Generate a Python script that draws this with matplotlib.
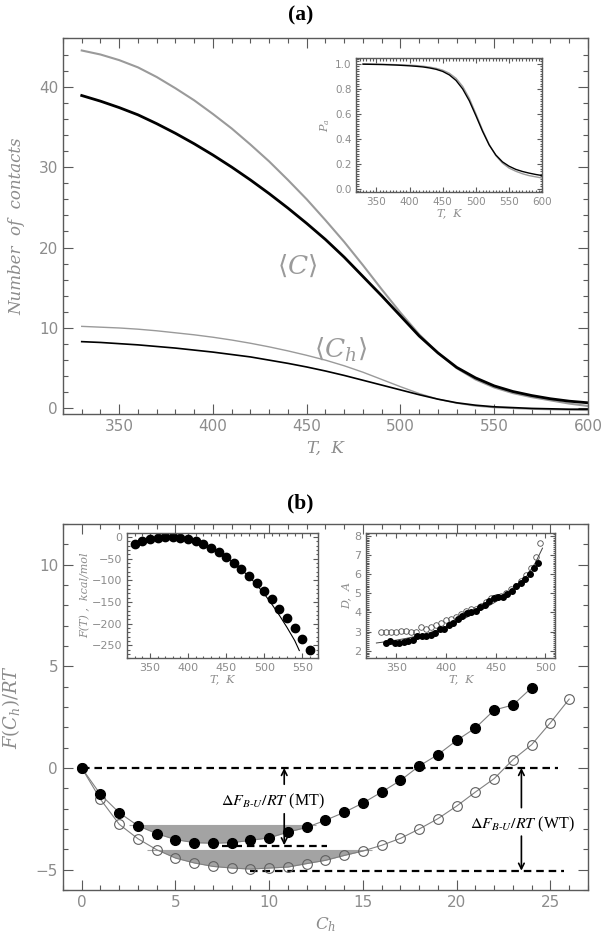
import matplotlib.pyplot as plt
import numpy as np
from matplotlib.ticker import MultipleLocator, FixedLocator

plt.rcParams['font.family'] = ['DejaVu Sans']
plt.rcParams['mathtext.fontset'] = 'dejavuserif'

# ---- panel (a): contacts vs temperature ----
temps_a = [330, 340, 350, 360, 370, 380, 390, 400, 410, 420, 430, 440, 450, 460,
           470, 480, 490, 500, 510, 520, 530, 540, 550, 560, 570, 580, 590, 600]
c_gray = [44.5, 44.0, 43.3, 42.4, 41.2, 39.8, 38.3, 36.6, 34.8, 32.8, 30.7, 28.4, 26.0, 23.4,
          20.7, 17.8, 14.8, 11.9, 9.2, 6.9, 5.0, 3.6, 2.6, 1.9, 1.4, 1.0, 0.6, 0.3]
c_black = [38.9, 38.2, 37.4, 36.5, 35.4, 34.2, 32.9, 31.5, 30.0, 28.4, 26.7, 24.9, 23.0, 21.0,
           18.8, 16.4, 14.0, 11.5, 9.0, 6.9, 5.1, 3.8, 2.8, 2.1, 1.6, 1.2, 0.9, 0.7]
ch_gray = [10.2, 10.1, 10.0, 9.85, 9.65, 9.4, 9.15, 8.85, 8.5, 8.1, 7.65, 7.15, 6.6, 6.0,
           5.3, 4.5, 3.6, 2.7, 1.85, 1.15, 0.65, 0.3, 0.1, 0.0, -0.1, -0.15, -0.2, -0.25]
ch_black = [8.3, 8.2, 8.05, 7.9, 7.7, 7.5, 7.25, 7.0, 6.7, 6.4, 6.0, 5.6, 5.15, 4.65,
            4.1, 3.5, 2.9, 2.3, 1.7, 1.15, 0.7, 0.4, 0.2, 0.1, 0.0, -0.05, -0.1, -0.1]
pa_black = [0.998, 0.997, 0.996, 0.995, 0.993, 0.991, 0.988, 0.985, 0.981, 0.976, 0.968, 0.957,
            0.94, 0.912, 0.868, 0.80, 0.705, 0.585, 0.46, 0.35, 0.27, 0.215, 0.18, 0.155,
            0.138, 0.125, 0.114, 0.105]
pa_gray = [1.0, 0.999, 0.998, 0.997, 0.996, 0.994, 0.992, 0.99, 0.987, 0.982, 0.975, 0.965,
           0.95, 0.925, 0.885, 0.82, 0.725, 0.60, 0.47, 0.355, 0.265, 0.205, 0.165, 0.14,
           0.12, 0.105, 0.095, 0.085]

# ---- panel (b): free energy profiles ----
ch_mt = list(range(0, 25))
f_mt = [0.0, -1.3, -2.2, -2.84, -3.23, -3.52, -3.67, -3.7, -3.67, -3.56, -3.43, -3.15, -2.92,
        -2.57, -2.18, -1.72, -1.18, -0.61, 0.1, 0.66, 1.36, 1.97, 2.85, 3.1, 3.95]
ch_wt = list(range(0, 27))
f_wt = [0.0, -1.54, -2.77, -3.48, -4.02, -4.43, -4.67, -4.84, -4.92, -4.97, -4.92, -4.87, -4.7,
        -4.54, -4.3, -4.08, -3.8, -3.46, -3.0, -2.49, -1.87, -1.18, -0.52, 0.41, 1.15, 2.23, 3.39]

# inset: F(T)
temps_f = [330, 340, 350, 360, 370, 380, 390, 400, 410, 420, 430, 440, 450, 460, 470, 480,
           490, 500, 510, 520, 530, 540, 550, 560]
f_t = [-17, -10, -4.5, -1.5, 0.5, 0.5, -1, -4.5, -10, -17, -25, -35, -46, -60, -73, -89,
       -106, -125, -144, -166, -187, -211, -236, -261]
temps_fit = [330, 340, 350, 360, 370, 380, 390, 400, 410, 420, 430, 440, 450, 460, 470, 480,
             490, 500, 510, 520, 530, 540, 546]
f_fit = [-16, -9.5, -4.5, -1.5, 0, 0, -1.5, -4.5, -9.5, -16.5, -25, -35, -47, -60, -75, -91,
         -110, -131, -155, -181, -209, -239, -262]

# inset: D
temps_d_open = [335, 340, 345, 350, 355, 360, 365, 370, 375, 380, 385, 390, 395, 400, 405, 410,
                415, 420, 425, 430, 435, 440, 445, 450, 455, 460, 465, 470, 475, 480, 485, 490, 495]
d_open = [3.0, 3.0, 3.0, 3.0, 3.05, 3.05, 3.0, 3.0, 3.25, 3.15, 3.25, 3.35, 3.45, 3.6, 3.65, 3.75,
          3.9, 4.05, 4.15, 4.2, 4.35, 4.55, 4.75, 4.8, 4.85, 5.0, 5.2, 5.4, 5.65, 5.95, 6.3, 6.9, 7.6]
temps_d_fill = [340, 344, 349, 353, 358, 362, 367, 371, 376, 380, 385, 389, 394, 398, 403, 407,
                412, 416, 421, 425, 430, 434, 439, 443, 448, 452, 457, 461, 466, 470, 475, 479,
                484, 488, 492]
d_fill = [2.42, 2.49, 2.38, 2.40, 2.47, 2.49, 2.56, 2.77, 2.75, 2.75, 2.83, 2.90, 3.11, 3.15,
          3.34, 3.46, 3.63, 3.79, 3.95, 4.02, 4.09, 4.26, 4.40, 4.59, 4.76, 4.78, 4.82, 4.96,
          5.11, 5.37, 5.55, 5.75, 6.0, 6.3, 6.6]
temps_d_line = [330, 340, 350, 360, 370, 380, 390, 400, 410, 420, 430, 440, 450, 460, 470, 480,
                490, 497]
d_line = [2.4, 2.47, 2.55, 2.64, 2.75, 2.88, 3.05, 3.25, 3.47, 3.72, 3.98, 4.25, 4.55, 4.87,
          5.25, 5.8, 6.6, 7.35]

TXT = '#8c8c8c'
AXC = '#5a5a5a'


def style(ax, xticks, xmin, yticks, ymin, fs, lmaj, lmin):
    # fixed major ticks inside the limits only, IDL-like inward ticks on all sides
    ax.xaxis.set_major_locator(FixedLocator(xticks))
    ax.xaxis.set_minor_locator(MultipleLocator(xmin))
    ax.yaxis.set_major_locator(FixedLocator(yticks))
    ax.yaxis.set_minor_locator(MultipleLocator(ymin))
    ax.tick_params(which='both', direction='in', top=True, right=True,
                   color=AXC, labelcolor=TXT, labelsize=fs, width=0.8)
    ax.tick_params(which='major', length=lmaj)
    ax.tick_params(which='minor', length=lmin)
    for s in ax.spines.values():
        s.set_color(AXC)
        s.set_linewidth(1.0)


lab = dict(color=TXT, family='DejaVu Serif', style='italic')

fig = plt.figure(figsize=(6.01, 9.44), dpi=100)

# ================= (a) =================
ax = fig.add_axes([0.1048, 0.5614, 0.8735, 0.3979])
ax.plot(temps_a, c_gray, color='#9a9a9a', lw=1.5)
ax.plot(temps_a, c_black, color='k', lw=2.0)
ax.plot(temps_a, ch_gray, color='#9a9a9a', lw=1.0)
ax.plot(temps_a, ch_black, color='k', lw=1.2)
ax.set_xlim(320, 600)
ax.set_ylim(-0.7, 46)
style(ax, [350, 400, 450, 500, 550, 600], 10, [0, 10, 20, 30, 40], 2, 11, 7, 3.5)
ax.set_xlabel('T,  K', fontsize=12, labelpad=4, **lab)
ax.set_ylabel('Number  of  contacts', fontsize=12, labelpad=10, **lab)
ax.text(445, 17.6, r'$\langle C\rangle$', color='#9a9a9a', fontsize=19, ha='center', va='center')
ax.text(468, 7.3, r'$\langle C_h\rangle$', color='#9a9a9a', fontsize=19, ha='center', va='center')

ia = ax.inset_axes([0.559, 0.59, 0.354, 0.357])
ia.plot(temps_a, pa_gray, color='#9a9a9a', lw=1.0)
ia.plot(temps_a, pa_black, color='k', lw=1.0)
ia.set_xlim(320, 600)
ia.set_ylim(-0.03, 1.045)
style(ia, [350, 400, 450, 500, 550, 600], 5, [0.0, 0.2, 0.4, 0.6, 0.8, 1.0], 0.02, 7.5, 3.5, 1.8)
ia.set_xlabel('T,  K', fontsize=8, labelpad=1, **lab)
ia.set_ylabel(r'$P_a$', fontsize=8, labelpad=2, color=TXT)

fig.text(0.5, 0.984, '(a)', ha='center', va='center', fontsize=15.5,
         fontweight='bold', family='Liberation Serif')

# ================= (b) =================
bx = fig.add_axes([0.1048, 0.0572, 0.8735, 0.3877])
ch_mt_arr = np.array(ch_mt)
f_mt_arr = np.array(f_mt)
ch_wt_arr = np.array(ch_wt)
f_wt_arr = np.array(f_wt)
bx.fill_between(ch_mt_arr, -2.8, f_mt_arr, where=(f_mt_arr < -2.8) & (ch_mt_arr < 14),
                interpolate=True, color='#a3a3a3', lw=0, zorder=1)
bx.fill_between(ch_wt_arr, -4.04, f_wt_arr, where=(f_wt_arr < -4.04) & (ch_wt_arr < 17),
                interpolate=True, color='#a3a3a3', lw=0, zorder=1)
bx.hlines(-2.8, 2.5, 12.5, color='#a3a3a3', lw=0.8, zorder=1)
bx.hlines(-4.04, 3.5, 15.5, color='#a3a3a3', lw=0.8, zorder=1)

dash = (0, (3.4, 2.2))
bx.hlines(0, 0, 25.4, color='k', lw=1.6, linestyles=dash, zorder=2)
bx.hlines(-3.84, 7.5, 13.1, color='k', lw=1.6, linestyles=dash, zorder=2)
bx.hlines(-5.07, 9.0, 25.7, color='k', lw=1.6, linestyles=dash, zorder=2)

bx.plot(ch_wt, f_wt, color='#808080', lw=0.8, marker='o', ms=7, mfc='none',
        mec='#606060', mew=0.8, zorder=3)
bx.plot(ch_mt, f_mt, color='#808080', lw=0.8, marker='o', ms=7, mfc='k',
        mec='k', zorder=4)

arr = dict(arrowstyle='->', color='k', lw=1.2, shrinkA=0, shrinkB=0)
bx.annotate('', xy=(10.8, 0), xytext=(10.8, -0.8), arrowprops=arr, zorder=5)
bx.annotate('', xy=(10.8, -3.8), xytext=(10.8, -2.25), arrowprops=arr, zorder=5)
bx.annotate('', xy=(23.45, 0), xytext=(23.45, -1.95), arrowprops=arr, zorder=5)
bx.annotate('', xy=(23.45, -5.05), xytext=(23.45, -3.35), arrowprops=arr, zorder=5)
bx.text(10.2, -1.63, r'$\mathit{\Delta F}_{B\text{-}U}/RT$ (MT)', fontsize=11.5,
        ha='center', va='center', family='Liberation Serif', math_fontfamily='stix')
bx.text(23.5, -2.76, r'$\mathit{\Delta F}_{B\text{-}U}/RT$ (WT)', fontsize=11.5,
        ha='center', va='center', family='Liberation Serif', math_fontfamily='stix')

bx.set_xlim(-1, 27)
bx.set_ylim(-6, 12)
style(bx, [0, 5, 10, 15, 20, 25], 1, [-5, 0, 5, 10], 1, 11, 7, 3.5)
bx.set_xlabel(r'$C_h$', fontsize=12, labelpad=4, color=TXT)
bx.set_ylabel(r'$F(C_h)/RT$', fontsize=13, labelpad=10, color=TXT)

# inset F(T)
i1 = bx.inset_axes([0.122, 0.633, 0.363, 0.343])
i1.plot(temps_fit, f_fit, color='k', lw=0.8)
i1.plot(temps_f, f_t, 'o', color='k', ms=6)
i1.set_xlim(320, 570)
i1.set_ylim(-280, 10)
style(i1, [350, 400, 450, 500, 550], 10, [-250, -200, -150, -100, -50, 0], 10, 8, 3.5, 1.8)
i1.set_xlabel('T,  K', fontsize=8, labelpad=1, **lab)
i1.set_ylabel('F(T) ,  kcal/mol', fontsize=8, labelpad=1, **lab)

# inset D
i2 = bx.inset_axes([0.578, 0.633, 0.36, 0.343])
i2.plot(temps_d_line, d_line, color='#404040', lw=0.7)
i2.plot(temps_d_open, d_open, 'o', ms=4, mfc='none', mec='#505050', mew=0.6)
i2.plot(temps_d_fill, d_fill, 'o', ms=4, mfc='k', mec='k')
i2.set_xlim(320, 510)
i2.set_ylim(1.6, 8.15)
style(i2, [350, 400, 450, 500], 10, [2, 3, 4, 5, 6, 7, 8], 0.1, 8, 3.5, 1.8)
i2.set_xlabel('T,  K', fontsize=8, labelpad=1, **lab)
i2.set_ylabel('D,  A', fontsize=8, labelpad=2, **lab)

fig.text(0.5, 0.467, '(b)', ha='center', va='center', fontsize=15.5,
         fontweight='bold', family='Liberation Serif')

fig.savefig('out.png', dpi=100)
